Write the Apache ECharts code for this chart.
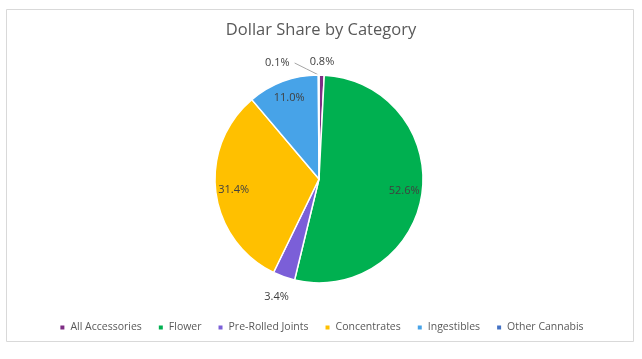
<!DOCTYPE html>
<html><head><meta charset="utf-8">
<script src="https://cdn.jsdelivr.net/npm/echarts@6/dist/echarts.min.js"></script>
<style>html,body{margin:0;padding:0;background:#fff}#c{width:642px;height:359px}</style>
</head><body><div id="c"></div>
<script>
var categories = ['All Accessories','Flower','Pre-Rolled Joints','Concentrates','Ingestibles','Other Cannabis'];
var values = [0.8, 52.6, 3.4, 31.4, 11.0, 0.1];
var colors = ['#7E2D84','#00B050','#7B5FD8','#FFC000','#47A3E8','#4472C4'];
// label placement: 'in' = inside the slice, 'top'/'out' = just outside, 'line' = with leader line
var labelMode = ['top', 'in', 'out', 'in', 'in', 'line'];

var FONT = "'Open Sans', 'Noto Sans', sans-serif";
var fmt = function(p){ return p.value.toFixed(1) + '%'; };
var chart = echarts.init(document.getElementById('c'));
function ringData(mode){
  return categories.map(function(n,i){
    return {name:n, value:values[i], label:{show:labelMode[i] === mode}};
  });
}
var mainData = categories.map(function(n,i){
  var show = labelMode[i] === 'line';
  return {name:n, value:values[i], itemStyle:{color:colors[i]},
    label:{show:show}, labelLine:{show:show}};
});
var labelStyle = {fontFamily:FONT, fontSize:11, color:'#404040', formatter:fmt};
function ring(r0, r1, mode){
  return {type:'pie', center:[319,179], radius:[r0,r1], startAngle:90, clockwise:true, silent:true,
     itemStyle:{color:'rgba(0,0,0,0)'},
     label:Object.assign({position:'inside'}, labelStyle),
     labelLine:{show:false},
     data:ringData(mode)};
}
chart.setOption({
  backgroundColor:'#fff',
  animation:false,
  title:{text:'Dollar Share by Category', left:'center', top:17,
    textStyle:{fontFamily:FONT, fontSize:16.5, fontWeight:'normal', color:'#595959'}},
  legend:{bottom:21, left:'center', icon:'rect', itemWidth:6, itemHeight:6, itemGap:15,
    data:categories,
    textStyle:{fontFamily:FONT, fontSize:10.5, color:'#595959'}},
  graphic:[{type:'rect', shape:{x:6.5,y:9.5,width:627,height:332}, style:{fill:'none', stroke:'#D9D9D9', lineWidth:1}, silent:true}],
  series:[
    {type:'pie', center:[319,179], radius:[0,104], startAngle:90, clockwise:true,
     avoidLabelOverlap:false,
     itemStyle:{borderColor:'#fff', borderWidth:1.5},
     label:Object.assign({position:'outside'}, labelStyle),
     labelLine:{length:12, length2:24, lineStyle:{color:'#A6A6A6', width:1}},
     labelLayout:function(p){
       var pts = p.labelLinePoints;
       if (!pts || pts.length < 3) return {};
       var a = pts[0], b = pts[pts.length-1];
       var m = [(a[0]+b[0])/2, (a[1]+b[1])/2];
       return {labelLinePoints:[a, m, b]};
     },
     data:mainData},
    ring(62, 104, 'in'),
    ring(100, 145, 'out'),
    ring(96, 132, 'top')
  ]
});
</script></body></html>
